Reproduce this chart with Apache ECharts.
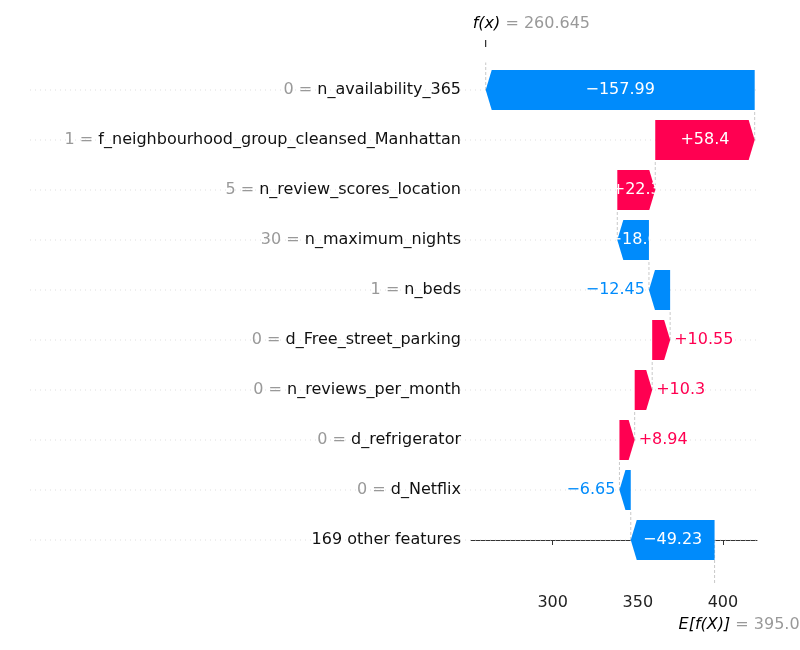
<!DOCTYPE html>
<html>
<head>
<meta charset="utf-8">
<script src="https://cdn.jsdelivr.net/npm/echarts@6/dist/echarts.min.js"></script>
<style>body{margin:0;background:#fff}#c{width:800px;height:650px}</style>
</head>
<body>
<div id="c"></div>
<script>
// top to bottom
const featureValues = ['0', '1', '5', '30', '1', '0', '0', '0', '0', ''];
const featureNames = ['n_availability_365', 'f_neighbourhood_group_cleansed_Manhattan', 'n_review_scores_location',
  'n_maximum_nights', 'n_beds', 'd_Free_street_parking', 'n_reviews_per_month', 'd_refrigerator', 'd_Netflix',
  '169 other features'];
const shapValues = [-157.99, 58.4, 22.3, -18.6, -12.45, 10.55, 10.3, 8.94, -6.65, -49.23];
const fx = 260.645;
const xTicks = [300, 350, 400];

const RED = '#ff0051', BLUE = '#008bfb', GRAY = '#999999';
const n = shapValues.length;
const total = shapValues.reduce((a, b) => a + b, 0);
const base = fx - total;

// build waterfall from bottom (base) upwards
let data = [];
let cur = base;
for (let i = n - 1; i >= 0; i--) {
  const y = n - 1 - i;
  data.push([y, cur, cur + shapValues[i], shapValues[i], i]);
  cur += shapValues[i];
}
data.reverse();

function fmt(v) {
  return (v < 0 ? '\u2212' : '+') + Math.abs(v);
}

const chart = echarts.init(document.getElementById('c'));
chart.setOption({
  animation: false,
  grid: { left: 471, right: 43, top: 40, bottom: 65 },
  xAxis: {
    type: 'value', min: 252, max: 420,
    axisLine: { lineStyle: { color: '#333' } },
    axisTick: { show: true, length: 5, customValues: xTicks, lineStyle: { color: '#333' } },
    axisLabel: { customValues: xTicks, fontSize: 16, color: '#222', fontFamily: 'DejaVu Sans', margin: 10 },
    splitLine: { show: false }
  },
  yAxis: { type: 'value', min: -0.9, max: 10, show: false, splitLine: { show: false } },
  series: [{
    type: 'custom',
    clip: false,
    data: data,
    renderItem: function (params, api) {
      const y = api.value(0), x0 = api.value(1), x1 = api.value(2), v = api.value(3), idx = api.value(4);
      const p0 = api.coord([x0, y]), p1 = api.coord([x1, y]);
      const h = 40, cy = p0[1];
      const color = v > 0 ? RED : BLUE;
      const dir = v > 0 ? 1 : -1;
      const head = Math.min(6, Math.abs(p1[0] - p0[0]));
      const tip = p1[0], back = p1[0] - dir * head;
      const pts = [[p0[0], cy - h / 2], [back, cy - h / 2], [tip, cy], [back, cy + h / 2], [p0[0], cy + h / 2]];
      const left = api.coord([252, y])[0], right = api.coord([420, y])[0];
      const children = [];
      // dotted row line
      children.push({ type: 'line', shape: { x1: 30, y1: cy, x2: right, y2: cy },
        style: { stroke: '#ddd', lineWidth: 1, lineDash: [1, 4] } });
      // dashed connector to next row above
      const connTop = idx === 0 ? api.coord([0, 9.55])[1] : cy - 50 + h / 2;
      children.push({ type: 'line', shape: { x1: tip, y1: cy, x2: tip, y2: connTop },
        style: { stroke: '#bbb', lineWidth: 0.8, lineDash: [3, 2] } });
      if (y === 0) {
        const bottomY = api.coord([0, -0.9])[1];
        children.push({ type: 'line', shape: { x1: p0[0], y1: cy, x2: p0[0], y2: bottomY },
          style: { stroke: '#bbb', lineWidth: 0.8, lineDash: [3, 2] } });
      }
      children.push({ type: 'polygon', shape: { points: pts }, style: { fill: color } });
      const w = Math.abs(p1[0] - p0[0]);
      if (w > 30) {
        children.push({ type: 'text', x: (p0[0] + p1[0]) / 2, y: cy,
          style: { text: fmt(v), fill: '#fff', fontSize: 16, fontFamily: 'DejaVu Sans', align: 'center', verticalAlign: 'middle' } });
      } else {
        children.push({ type: 'text', x: tip + dir * 4, y: cy,
          style: { text: fmt(v), fill: color, fontSize: 16, fontFamily: 'DejaVu Sans',
            align: v > 0 ? 'left' : 'right', verticalAlign: 'middle' } });
      }
      // feature label
      const fv = featureValues[idx];
      children.push({ type: 'text', x: left - 10, y: cy,
        style: { text: (fv !== '' ? '{g|' + fv + ' = }' : '') + '{b|' + featureNames[idx] + '}',
          align: 'right', verticalAlign: 'middle',
          rich: { g: { fill: GRAY, fontSize: 16, fontFamily: 'DejaVu Sans' },
                  b: { fill: '#111', fontSize: 16, fontFamily: 'DejaVu Sans' } } } });
      if (idx === 0) {
        const topY = api.coord([0, 10])[1];
        children.push({ type: 'line', shape: { x1: tip, y1: topY, x2: tip, y2: topY + 7 },
          style: { stroke: '#000', lineWidth: 1 } });
        children.push({ type: 'text', x: tip - 13, y: topY - 16,
          style: { text: '{i|f(x)}{g| = ' + fx + '}', verticalAlign: 'middle',
            rich: { i: { fill: '#000', fontSize: 16, fontStyle: 'italic', fontFamily: 'DejaVu Sans' },
                    g: { fill: GRAY, fontSize: 16, fontFamily: 'DejaVu Sans' } } } });
      }
      if (y === 0) {
        const bottomY = api.coord([0, -0.9])[1];
        children.push({ type: 'text', x: p0[0] - 36, y: bottomY + 40,
          style: { text: '{i|E[f(X)]}{g| = ' + base.toFixed(3) + '}', verticalAlign: 'middle',
            rich: { i: { fill: '#000', fontSize: 16, fontStyle: 'italic', fontFamily: 'DejaVu Sans' },
                    g: { fill: GRAY, fontSize: 16, fontFamily: 'DejaVu Sans' } } } });
      }
      return { type: 'group', children: children };
    }
  }]
});
</script>
</body>
</html>
